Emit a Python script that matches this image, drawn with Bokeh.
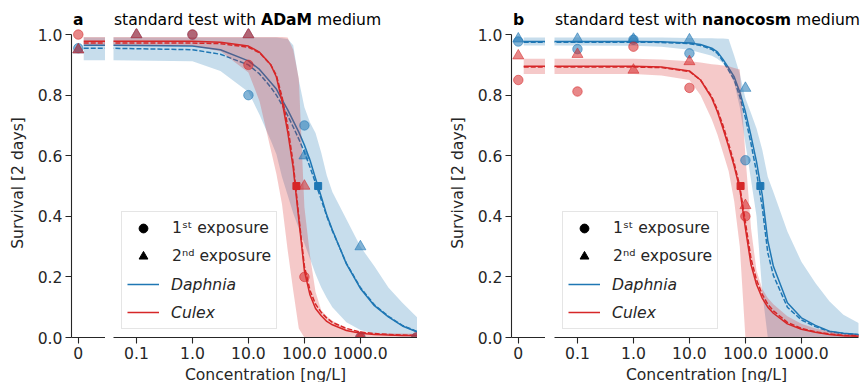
from bokeh.plotting import figure
from bokeh.layouts import row, column
from bokeh.models import Range1d, FixedTicker, Legend, LegendItem, Div
from bokeh.embed import file_html
from bokeh.resources import INLINE

BLUE = "#1f77b4"
RED = "#d62728"
AXC = "#262626"
FONT = "DejaVu Sans"
FS = "15.6px"
NAN = float("nan")

# ---------------- data ----------------
# concentrations (ng/L) at which the fitted curves / bands were read
curve_conc = [0.0316, 1, 3.16, 10, 15.8, 25.1, 31.6, 39.8, 50.1, 63.1, 79.4, 100,
              126, 158, 200, 251, 316, 562, 1000, 1778, 3162, 5623, 12589]

# panel a: ADaM medium
a_daphnia_fit = [0.965, 0.962, 0.95, 0.913, 0.885, 0.842, 0.82, 0.785, 0.752, 0.715, 0.678, 0.635,
                 0.585, 0.525, 0.465, 0.404, 0.355, 0.243, 0.162, 0.105, 0.068, 0.038, 0.012]
a_daphnia_fit2 = [0.955, 0.95, 0.935, 0.90, 0.87, 0.826, 0.80, 0.768, 0.733, 0.695, 0.655, 0.612,
                  0.562, 0.51, 0.455, 0.40, 0.352, 0.245, 0.165, 0.108, 0.07, 0.04, 0.013]
a_daphnia_hi = [0.99, 0.99, 0.99, 0.99, 0.99, 0.99, 0.99, 0.988, 0.985, 0.965, 0.85, 0.76,
                0.71, 0.675, 0.61, 0.535, 0.48, 0.39, 0.30, 0.235, 0.165, 0.115, 0.05]
a_daphnia_lo = [0.915, 0.912, 0.88, 0.81, 0.735, 0.65, 0.605, 0.53, 0.47, 0.41, 0.36, 0.31,
                0.26, 0.21, 0.165, 0.13, 0.10, 0.05, 0.025, 0.012, 0.006, 0.003, 0.001]
a_culex_fit = [0.978, 0.978, 0.975, 0.962, 0.942, 0.90, 0.86, 0.78, 0.68, 0.56, 0.39, 0.22,
               0.14, 0.096, 0.072, 0.053, 0.042, 0.023, 0.014, 0.01, 0.008, 0.007, 0.006]
a_culex_fit2 = [0.972, 0.972, 0.97, 0.958, 0.94, 0.90, 0.865, 0.795, 0.70, 0.575, 0.40, 0.235,
                0.155, 0.11, 0.083, 0.064, 0.05, 0.03, 0.018, 0.013, 0.01, 0.008, 0.007]
a_culex_hi = [0.992, 0.992, 0.992, 0.992, 0.992, 0.992, 0.992, 0.992, 0.99, 0.95, 0.855, 0.43,
              0.27, 0.15, 0.09, 0.07, 0.055, 0.03, 0.02, 0.016, 0.014, 0.013, 0.012]
a_culex_lo = [0.964, 0.962, 0.945, 0.875, 0.78, 0.62, 0.54, 0.44, 0.29, 0.155, 0.03, 0.0,
              0.0, 0.0, 0.0, 0.0, 0.0, 0.0, 0.0, 0.0, 0.0, 0.0, 0.0]

a_conc_1st = [0, 1, 10, 100, 1000, 10000]
a_daphnia_1st = [0.955, 1.0, 0.80, 0.70, 0.0, 0.0]
a_culex_1st = [1.0, 1.0, 0.90, 0.20, 0.0, 0.0]
a_conc_2nd = [0, 0.1, 10, 100, 1000]
a_daphnia_2nd = [0.95, 1.0, 1.0, 0.60, 0.30]
a_culex_2nd = [0.95, 1.0, 1.0, 0.50, 0.0]
a_ec50 = [176, 72]          # Daphnia, Culex

# panel b: nanocosm medium
b_daphnia_fit = [0.977, 0.977, 0.976, 0.972, 0.967, 0.955, 0.943, 0.918, 0.89, 0.86, 0.81, 0.745,
                 0.665, 0.58, 0.47, 0.32, 0.235, 0.115, 0.065, 0.04, 0.021, 0.014, 0.009]
b_daphnia_fit2 = [0.975, 0.975, 0.974, 0.97, 0.964, 0.951, 0.938, 0.912, 0.882, 0.85, 0.795, 0.725,
                  0.64, 0.545, 0.43, 0.28, 0.205, 0.10, 0.058, 0.036, 0.02, 0.013, 0.008]
b_daphnia_hi = [0.99, 0.99, 0.99, 0.989, 0.988, 0.988, 0.987, 0.987, 0.985, 0.93, 0.87, 0.79,
                0.74, 0.69, 0.62, 0.53, 0.48, 0.35, 0.25, 0.18, 0.12, 0.075, 0.04]
b_daphnia_lo = [0.964, 0.963, 0.96, 0.95, 0.94, 0.93, 0.92, 0.905, 0.88, 0.84, 0.76, 0.64,
                0.52, 0.40, 0.15, 0.0, 0.0, 0.0, 0.0, 0.0, 0.0, 0.0, 0.0]
b_culex_fit = [0.895, 0.895, 0.893, 0.88, 0.85, 0.79, 0.745, 0.69, 0.63, 0.565, 0.49, 0.36,
               0.24, 0.175, 0.13, 0.10, 0.08, 0.045, 0.027, 0.017, 0.01, 0.006, 0.004]
b_culex_fit2 = [0.893, 0.893, 0.891, 0.878, 0.85, 0.795, 0.752, 0.70, 0.64, 0.575, 0.50, 0.38,
                0.26, 0.19, 0.142, 0.11, 0.088, 0.05, 0.03, 0.019, 0.012, 0.007, 0.005]
b_culex_hi = [0.92, 0.92, 0.918, 0.912, 0.908, 0.902, 0.90, 0.898, 0.895, 0.89, 0.885, 0.60,
              0.36, 0.22, 0.16, 0.13, 0.11, 0.07, 0.045, 0.03, 0.02, 0.012, 0.008]
b_culex_lo = [0.87, 0.87, 0.865, 0.85, 0.80, 0.72, 0.67, 0.61, 0.55, 0.45, 0.30, 0.0,
              0.0, 0.0, 0.0, 0.0, 0.0, 0.0, 0.0, 0.0, 0.0, 0.0, 0.0]

b_conc_1st = [0, 0.1, 1, 10, 100]
b_daphnia_1st = [0.977, 0.952, 0.983, 0.938, 0.585]
b_culex_1st = [0.85, 0.812, 0.96, 0.824, 0.40]
b_conc_2nd = [0, 0.1, 1, 10, 100]
b_daphnia_2nd = [0.986, 0.985, 0.985, 0.983, 0.823]
b_culex_2nd = [0.93, 0.935, 0.883, 0.911, 0.436]
b_ec50 = [185, 82]          # Daphnia, Culex

y_ticks = [0.0, 0.2, 0.4, 0.6, 0.8, 1.0]
x_ticks = [0.1, 1, 10, 100, 1000]
x_tick_labels = ["0.1", "1.0", "10.0", "100.0", "1000.0"]
species = ["Daphnia", "Culex"]
exposures = ["1\u02e2\u1d57 exposure", "2\u207f\u1d48 exposure"]
panel_tags = ["a", "b"]
media = ["ADaM", "nanocosm"]

# ---------------- layout constants ----------------
FRAME_H = 309
TITLE_H = 28
BOTTOM = 43
CTRL_W = 34
CTRL_SPAN = [0.16, 0.8]
LOG_RANGE = (10 ** -1.41, 10 ** 4.02)
DASH = "5 2"


def style_axis(ax):
    ax.axis_line_color = AXC
    ax.axis_line_width = 1.1
    ax.major_tick_line_color = AXC
    ax.major_tick_line_width = 1.1
    ax.major_tick_out = 6
    ax.major_tick_in = 0
    ax.minor_tick_out = 0
    ax.minor_tick_in = 0
    ax.major_label_text_font = FONT
    ax.major_label_text_font_size = FS
    ax.major_label_text_color = AXC
    ax.major_label_standoff = 3
    ax.axis_label_text_font = FONT
    ax.axis_label_text_font_size = FS
    ax.axis_label_text_font_style = "normal"
    ax.axis_label_text_color = AXC


def base_fig(right=0, **kw):
    p = figure(output_backend="svg", toolbar_location=None, frame_height=FRAME_H,
               min_border_top=0, min_border_bottom=BOTTOM, min_border_right=right, **kw)
    p.outline_line_color = None
    p.xgrid.visible = False
    p.ygrid.visible = False
    p.background_fill_color = "white"
    p.border_fill_color = "white"
    return p


def panel(left_border, gap, right_border, data):
    yr = Range1d(0, 1.02)
    ctrl = base_fig(frame_width=CTRL_W, x_range=Range1d(-0.2, 0.8), y_range=yr,
                    min_border_left=left_border)
    logp = base_fig(right=right_border, frame_width=304, x_axis_type="log",
                    x_range=Range1d(*LOG_RANGE), y_range=yr, y_axis_location=None,
                    min_border_left=gap)

    # axes
    ya = ctrl.yaxis[0]
    style_axis(ya)
    ya.ticker = FixedTicker(ticks=y_ticks)
    ya.major_label_overrides = {t: f"{t:.1f}" for t in y_ticks}
    ya.bounds = (0, 1)
    ya.axis_label = "Survival [2 days]"
    ya.axis_label_standoff = 8
    xa = ctrl.xaxis[0]
    style_axis(xa)
    xa.ticker = FixedTicker(ticks=[0])
    xa.major_label_overrides = {0: "0"}
    lx = logp.xaxis[0]
    style_axis(lx)
    lx.ticker = FixedTicker(ticks=x_ticks)
    lx.major_label_overrides = {t: s for t, s in zip(x_ticks, x_tick_labels)}
    lx.axis_label = "Concentration [ng/L]"
    lx.axis_label_standoff = 4

    line_r = {}
    for sp, col in zip(species, [BLUE, RED]):
        d = data[sp]
        # control (concentration 0) part
        ctrl.varea(x=CTRL_SPAN, y1=[d["lo"][0]] * 2, y2=[d["hi"][0]] * 2,
                   fill_color=col, fill_alpha=0.25)
        ctrl.line(CTRL_SPAN, [d["fit"][0]] * 2, line_color=col, line_width=1.5)
        ctrl.line(CTRL_SPAN, [d["fit2"][0]] * 2, line_color=col, line_width=1.5,
                  line_dash=DASH)
        # log-concentration part
        logp.varea(x=curve_conc, y1=d["lo"], y2=d["hi"], fill_color=col, fill_alpha=0.25)
        line_r[sp] = logp.line(curve_conc, d["fit"], line_color=col, line_width=1.5)
        logp.line(curve_conc, d["fit2"], line_color=col, line_width=1.5, line_dash=DASH)

    for sp, col in zip(species, [BLUE, RED]):
        d = data[sp]
        for conc, surv, mk, sz in [(d["c1"], d["s1"], "circle", 9.5),
                                   (d["c2"], d["s2"], "triangle", 11)]:
            c0 = [s for c, s in zip(conc, surv) if c == 0]
            cx = [c for c in conc if c > 0]
            sx = [s for c, s in zip(conc, surv) if c > 0]
            ctrl.scatter([0] * len(c0), c0, marker=mk, size=sz, fill_color=col,
                         line_color=col, fill_alpha=0.55, line_alpha=0.55)
            logp.scatter(cx, sx, marker=mk, size=sz, fill_color=col,
                         line_color=col, fill_alpha=0.55, line_alpha=0.55)
        logp.scatter([d["ec50"]], [0.5], marker="square", size=7, fill_color=col,
                     line_color=col)

    # legend (two stacked legends so that species names can be italic)
    dum_c = logp.scatter([NAN], [NAN], marker="circle", size=9, color="black")
    dum_t = logp.scatter([NAN], [NAN], marker="triangle", size=10, color="black")
    dum_l = logp.line([NAN, NAN], [NAN, NAN], line_alpha=0)
    common = dict(location=(8, 8), margin=0, padding=5, spacing=6, glyph_width=32,
                  glyph_height=22, label_height=22, label_standoff=13,
                  label_text_font=FONT, label_text_font_size=FS, label_text_color=AXC)
    legA = Legend(items=[LegendItem(label=exposures[0], renderers=[dum_c]),
                         LegendItem(label=exposures[1], renderers=[dum_t]),
                         LegendItem(label=" ", renderers=[line_r["Daphnia"]]),
                         LegendItem(label=" ", renderers=[line_r["Culex"]])],
                  border_line_color="#cccccc", border_line_width=1,
                  background_fill_color="white", background_fill_alpha=0.85, **common)
    legB = Legend(items=[LegendItem(label=species[0], renderers=[dum_l]),
                         LegendItem(label=species[1], renderers=[dum_l])],
                  border_line_alpha=0, background_fill_alpha=0,
                  label_text_font_style="italic", **common)
    logp.add_layout(legA)
    logp.add_layout(legB)
    return [ctrl, logp]


data_a = {
    "Daphnia": dict(fit=a_daphnia_fit, fit2=a_daphnia_fit2, hi=a_daphnia_hi, lo=a_daphnia_lo,
                    c1=a_conc_1st, s1=a_daphnia_1st, c2=a_conc_2nd, s2=a_daphnia_2nd,
                    ec50=a_ec50[0]),
    "Culex": dict(fit=a_culex_fit, fit2=a_culex_fit2, hi=a_culex_hi, lo=a_culex_lo,
                  c1=a_conc_1st, s1=a_culex_1st, c2=a_conc_2nd, s2=a_culex_2nd,
                  ec50=a_ec50[1]),
}
data_b = {
    "Daphnia": dict(fit=b_daphnia_fit, fit2=b_daphnia_fit2, hi=b_daphnia_hi, lo=b_daphnia_lo,
                    c1=b_conc_1st, s1=b_daphnia_1st, c2=b_conc_2nd, s2=b_daphnia_2nd,
                    ec50=b_ec50[0]),
    "Culex": dict(fit=b_culex_fit, fit2=b_culex_fit2, hi=b_culex_hi, lo=b_culex_lo,
                  c1=b_conc_1st, s1=b_culex_1st, c2=b_conc_2nd, s2=b_culex_2nd,
                  ec50=b_ec50[1]),
}

figs = panel(71, 8, 0, data_a)
figs += panel(94, 9, 2, data_b)

# panel titles (mixed bold / normal text) in a strip above the plots
tag_x = [73, 513]
title_x = [114, 555]
spans = []
for tg, md, tx, ttx in zip(panel_tags, media, tag_x, title_x):
    spans.append(f'<span style="position:absolute;left:{tx}px;top:11px;font-weight:bold;">{tg}</span>')
    spans.append(f'<span style="position:absolute;left:{ttx}px;top:11px;white-space:nowrap;">'
                 f'standard test with <b>{md}</b> medium</span>')
title_html = (f'<div style="position:relative;width:860px;height:{TITLE_H}px;'
              f'font-family:\'DejaVu Sans\';font-size:{FS};line-height:18px;color:black;">'
              + "".join(spans) + '</div>')
title_div = Div(text=title_html, width=860, height=TITLE_H, margin=(0, 0, 0, 0))

p = column(title_div, row(figs, spacing=0), spacing=0)
open("out.html", "w").write(file_html(p, INLINE))
